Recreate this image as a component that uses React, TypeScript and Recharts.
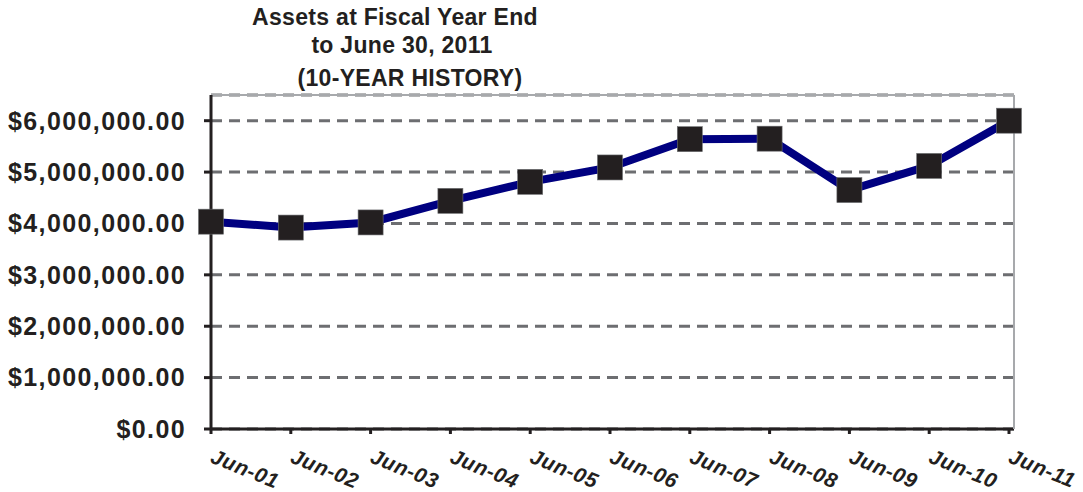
import { LineChart, Line, XAxis, YAxis, CartesianGrid, ReferenceLine } from 'recharts';

const categories = ['Jun-01', 'Jun-02', 'Jun-03', 'Jun-04', 'Jun-05', 'Jun-06', 'Jun-07', 'Jun-08', 'Jun-09', 'Jun-10', 'Jun-11'];
const assets = [4035000, 3920000, 4020000, 4440000, 4810000, 5090000, 5640000, 5650000, 4650000, 5120000, 6000000];
const yTicks = [0, 1000000, 2000000, 3000000, 4000000, 5000000, 6000000];
const titleLines = ['Assets at Fiscal Year End', 'to June 30, 2011', '(10-YEAR HISTORY)'];

const data = categories.map((c, i) => ({ name: c, value: assets[i] }));

const FONT = '"Liberation Sans", Arial, sans-serif';
const DARK = '#231f20';

const fmtMoney = (v: number) =>
  '$' + v.toLocaleString('en-US', { minimumFractionDigits: 2, maximumFractionDigits: 2 });

function SquareDot(props: any) {
  const { cx, cy, index } = props;
  if (cx == null || cy == null) return null;
  const s = 25;
  return (
    <rect
      key={`dot-${index}`}
      x={cx - s / 2}
      y={cy - s / 2}
      width={s}
      height={s}
      fill={DARK}
      stroke="#6d6e71"
      strokeWidth={0.6}
    />
  );
}

function XTick(props: any) {
  const { x, y, payload } = props;
  return (
    <g transform={`translate(${x + 4},${y + 12}) rotate(22)`}>
      <text
        x={0}
        y={0}
        dy="0.72em"
        textAnchor="start"
        fontFamily={FONT}
        fontWeight="bold"
        fontStyle="italic"
        fontSize={21}
        letterSpacing={0.6}
        fill={DARK}
      >
        {payload.value}
      </text>
    </g>
  );
}

const titlePos = [
  { cx: 395, cy: 17 },
  { cx: 402, cy: 45 },
  { cx: 410, cy: 78 },
];

export default function App() {
  return (
    <div style={{ position: 'absolute', left: 0, top: 0, width: 1083, height: 492, background: '#fff' }}>
      {titleLines.map((t, i) => (
        <div
          key={t}
          style={{
            position: 'absolute',
            left: titlePos[i].cx - 250,
            width: 500,
            top: titlePos[i].cy - 14,
            height: 28,
            lineHeight: '28px',
            textAlign: 'center',
            fontFamily: FONT,
            fontWeight: 'bold',
            fontSize: 23,
            letterSpacing: 0.3,
            color: DARK,
            whiteSpace: 'nowrap',
          }}
        >
          {t}
        </div>
      ))}
      <LineChart
        width={1083}
        height={492}
        data={data}
        margin={{ top: 95, right: 0, bottom: 0, left: 0 }}
      >
        <CartesianGrid
          yAxisId="left"
          horizontal={true}
          vertical={false}
          stroke="#6d6e71"
          strokeWidth={3}
          strokeDasharray="11 7"
        />
        <ReferenceLine yAxisId="left" y={6500000} stroke="#a7a9ac" strokeWidth={2} />
        <XAxis
          dataKey="name"
          interval={0}
          height={63}
          padding={{ left: 0, right: 5 }}
          axisLine={{ stroke: DARK, strokeWidth: 3 }}
          tickLine={{ stroke: DARK, strokeWidth: 3 }}
          tickSize={5}
          tick={<XTick />}
        />
        <YAxis
          yAxisId="left"
          width={211}
          domain={[0, 6500000]}
          ticks={yTicks}
          interval={0}
          tickFormatter={fmtMoney}
          axisLine={{ stroke: DARK, strokeWidth: 3 }}
          tickLine={{ stroke: DARK, strokeWidth: 3 }}
          tickSize={7}
          tickMargin={18}
          tick={{ fill: DARK, fontFamily: FONT, fontWeight: 'bold', fontSize: 25, letterSpacing: 1.4 }}
        />
        <YAxis
          yAxisId="right"
          orientation="right"
          width={69}
          domain={[0, 6500000]}
          tick={false}
          tickLine={false}
          axisLine={{ stroke: '#a7a9ac', strokeWidth: 2 }}
        />
        <Line
          yAxisId="left"
          type="linear"
          dataKey="value"
          stroke="#000080"
          strokeWidth={8}
          dot={<SquareDot />}
          activeDot={false}
          isAnimationActive={false}
        />
      </LineChart>
    </div>
  );
}
